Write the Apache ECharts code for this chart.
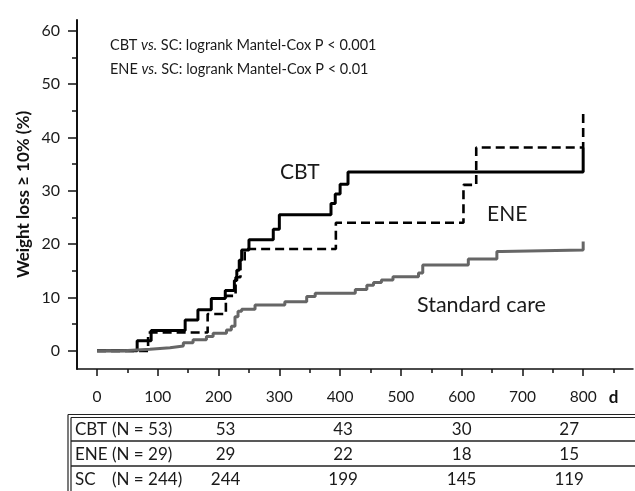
<!DOCTYPE html>
<html><head><meta charset="utf-8">
<script src="https://cdn.jsdelivr.net/npm/echarts@6/dist/echarts.min.js"></script>
<style>html,body{margin:0;padding:0;background:#fff}#c{width:635px;height:491px}</style>
</head><body><div id="c"></div>
<script>
// ---- data ----
const cbt = [[0,0],[66,1.9],[89,3.8],[145,5.8],[166,7.7],[188,9.8],[211,11.3],[226,13.2],[230,15.1],[234,17.0],[238,18.9],[250,20.8],[290,22.8],[300,25.5],[385,27.6],[392,29.4],[400,31.2],[413,33.5],[800,33.5],[800,38.1]];
const ene = [[0,0],[84,3.45],[182,6.9],[212,10.3],[228,13.8],[236,16.6],[243,19.1],[393,24.0],[603,31.1],[624,38.1],[800,38.1],[800,44.6]];
const sc = [[0,0],[43,0.3],[87,0.6],[120,0.9],[142,1.5],[158,2.1],[180,2.7],[191,3.3],[213,3.9],[221,4.6],[227,6.4],[232,7.4],[238,7.8],[260,8.6],[309,9.2],[345,10.2],[359,10.8],[425,11.5],[444,12.3],[455,12.8],[468,13.3],[487,13.9],[529,14.6],[536,16.1],[611,17.2],[658,18.6],[666,18.9],[800,18.9],[800,20.5]];
const xTicks = [0,100,200,300,400,500,600,700,800];
const xMinor = [50,150,250,350,450,550,650,750,850];
const yTicks = [0,10,20,30,40,50,60];
const yMinor = [5,15,25,35,45,55];
const riskDays = [200,400,600,800];
const riskRows = [
  {grp:'CBT', n:'(N = 53)', vals:[53,43,30,27]},
  {grp:'ENE', n:'(N = 29)', vals:[29,22,18,15]},
  {grp:'SC', n:'(N = 244)', vals:[244,199,145,119]}
];
const statLines = ['CBT', 'ENE'];

(function(){
const FONT = 'Lato';
const chart = echarts.init(document.getElementById('c'), null, {renderer:'canvas'});
const XMIN = -33, XMAX = 882, YMIN = -3.4, YMAX = 62;
const option = {
  animation:false,
  textStyle:{fontFamily:FONT},
  grid:{left:77, right:2, top:20, bottom:122, outerBoundsMode:'none', containLabel:false},
  xAxis:[{
    type:'value', min:XMIN, max:XMAX, splitLine:{show:false},
    axisLine:{onZero:false, lineStyle:{color:'#111', width:1.5}},
    axisTick:{customValues:xTicks, length:7, lineStyle:{color:'#111', width:1.5}},
    axisLabel:{customValues:xTicks.concat([850]), margin:20, fontSize:15.5, color:'#1a1a1a', fontFamily:FONT,
      formatter:v=> v===850 ? '{d|d}' : String(v),
      rich:{d:{fontWeight:'bold', fontSize:17, color:'#111', fontFamily:FONT, padding:[0,0,6,0]}}}
  },{
    type:'value', min:XMIN, max:XMAX, position:'bottom', splitLine:{show:false},
    axisLine:{show:false, onZero:false}, axisLabel:{show:false},
    axisTick:{customValues:xMinor, length:4, lineStyle:{color:'#111', width:1.5}}
  }],
  yAxis:[{
    type:'value', min:YMIN, max:YMAX, splitLine:{show:false},
    axisLine:{onZero:false, lineStyle:{color:'#111', width:2}},
    axisTick:{customValues:yTicks, length:9, lineStyle:{color:'#111', width:1.5}},
    axisLabel:{customValues:yTicks, margin:17, fontSize:16, color:'#1a1a1a', fontFamily:FONT},
    name:'Weight loss \u2265 10% (%)', nameLocation:'middle', nameGap:45, nameMoveOverlap:false,
    nameTextStyle:{fontWeight:'bold', fontSize:17, color:'#111', fontFamily:FONT}
  },{
    type:'value', min:YMIN, max:YMAX, position:'left', splitLine:{show:false},
    axisLine:{show:false, onZero:false}, axisLabel:{show:false},
    axisTick:{customValues:yMinor, length:5, lineStyle:{color:'#111', width:1.5}}
  }],
  series:[
    {name:'CBT', type:'line', step:'end', data:cbt, showSymbol:false, z:3,
     lineStyle:{color:'#000', width:3}},
    {name:'ENE', type:'line', step:'end', data:ene, showSymbol:false, z:3,
     lineStyle:{color:'#000', width:2.6, type:[9,5]}},
    {name:'Standard care', type:'line', step:'end', data:sc, showSymbol:false, z:4,
     lineStyle:{color:'#666', width:3}}
  ]
};
chart.setOption(option);

// ---- annotations & at-risk table ----
const px = v => chart.convertToPixel({xAxisIndex:0}, v);
const g = [];
const txt = (x,y,s,size,align) => g.push({type:'text', x:x, y:y, style:{text:s, fontSize:size, fontFamily:FONT, fill:'#1a1a1a', textVerticalAlign:'middle', textAlign:align||'left'}});
statLines.forEach((grp,i)=>{
  const p = i===0 ? '0.001' : '0.01';
  g.push({type:'text', x:110, y:45+i*24, style:{
    text:'{n|'+grp+' }{i|vs.}{n| SC: logrank Mantel-Cox P < '+p+'}',
    textVerticalAlign:'middle',
    rich:{n:{fontSize:14.5, fontFamily:FONT, fill:'#1a1a1a'}, i:{fontSize:14.5, fontFamily:FONT, fontStyle:'italic', fill:'#1a1a1a'}}
  }});
});
txt(280,172,'CBT',21);
txt(487,214,'ENE',21);
txt(417,305,'Standard care',21.5);
const tTop = 416, rowH = 25, tLeft = 68, tRight = 640;
const ln = (x1,y1,x2,y2,w) => g.push({type:'line', shape:{x1:x1,y1:y1,x2:x2,y2:y2}, style:{stroke:'#222', lineWidth:w||1.5}});
ln(tLeft, tTop-1.5, tRight, tTop-1.5, 1.2);
ln(tLeft+3, tTop+1.5, tRight, tTop+1.5, 1.2);
ln(tLeft, tTop-1.5, tLeft, 495, 1.2);
ln(tLeft+3, tTop+1.5, tLeft+3, 495, 1.2);
ln(tLeft+3, tTop+rowH, tRight, tTop+rowH, 1.5);
ln(tLeft+3, tTop+2*rowH, tRight, tTop+2*rowH, 1.5);
const colOff = [7,3,0,-14];
riskRows.forEach((r,i)=>{
  const y = tTop + rowH*i + rowH/2 + 1;
  txt(75, y, r.grp, 17);
  txt(112, y, r.n, 17);
  r.vals.forEach((v,j)=>{
    txt(px(riskDays[j])+colOff[j], y, String(v), 17, 'center');
  });
});
chart.setOption({graphic:g});
})();
</script></body></html>
